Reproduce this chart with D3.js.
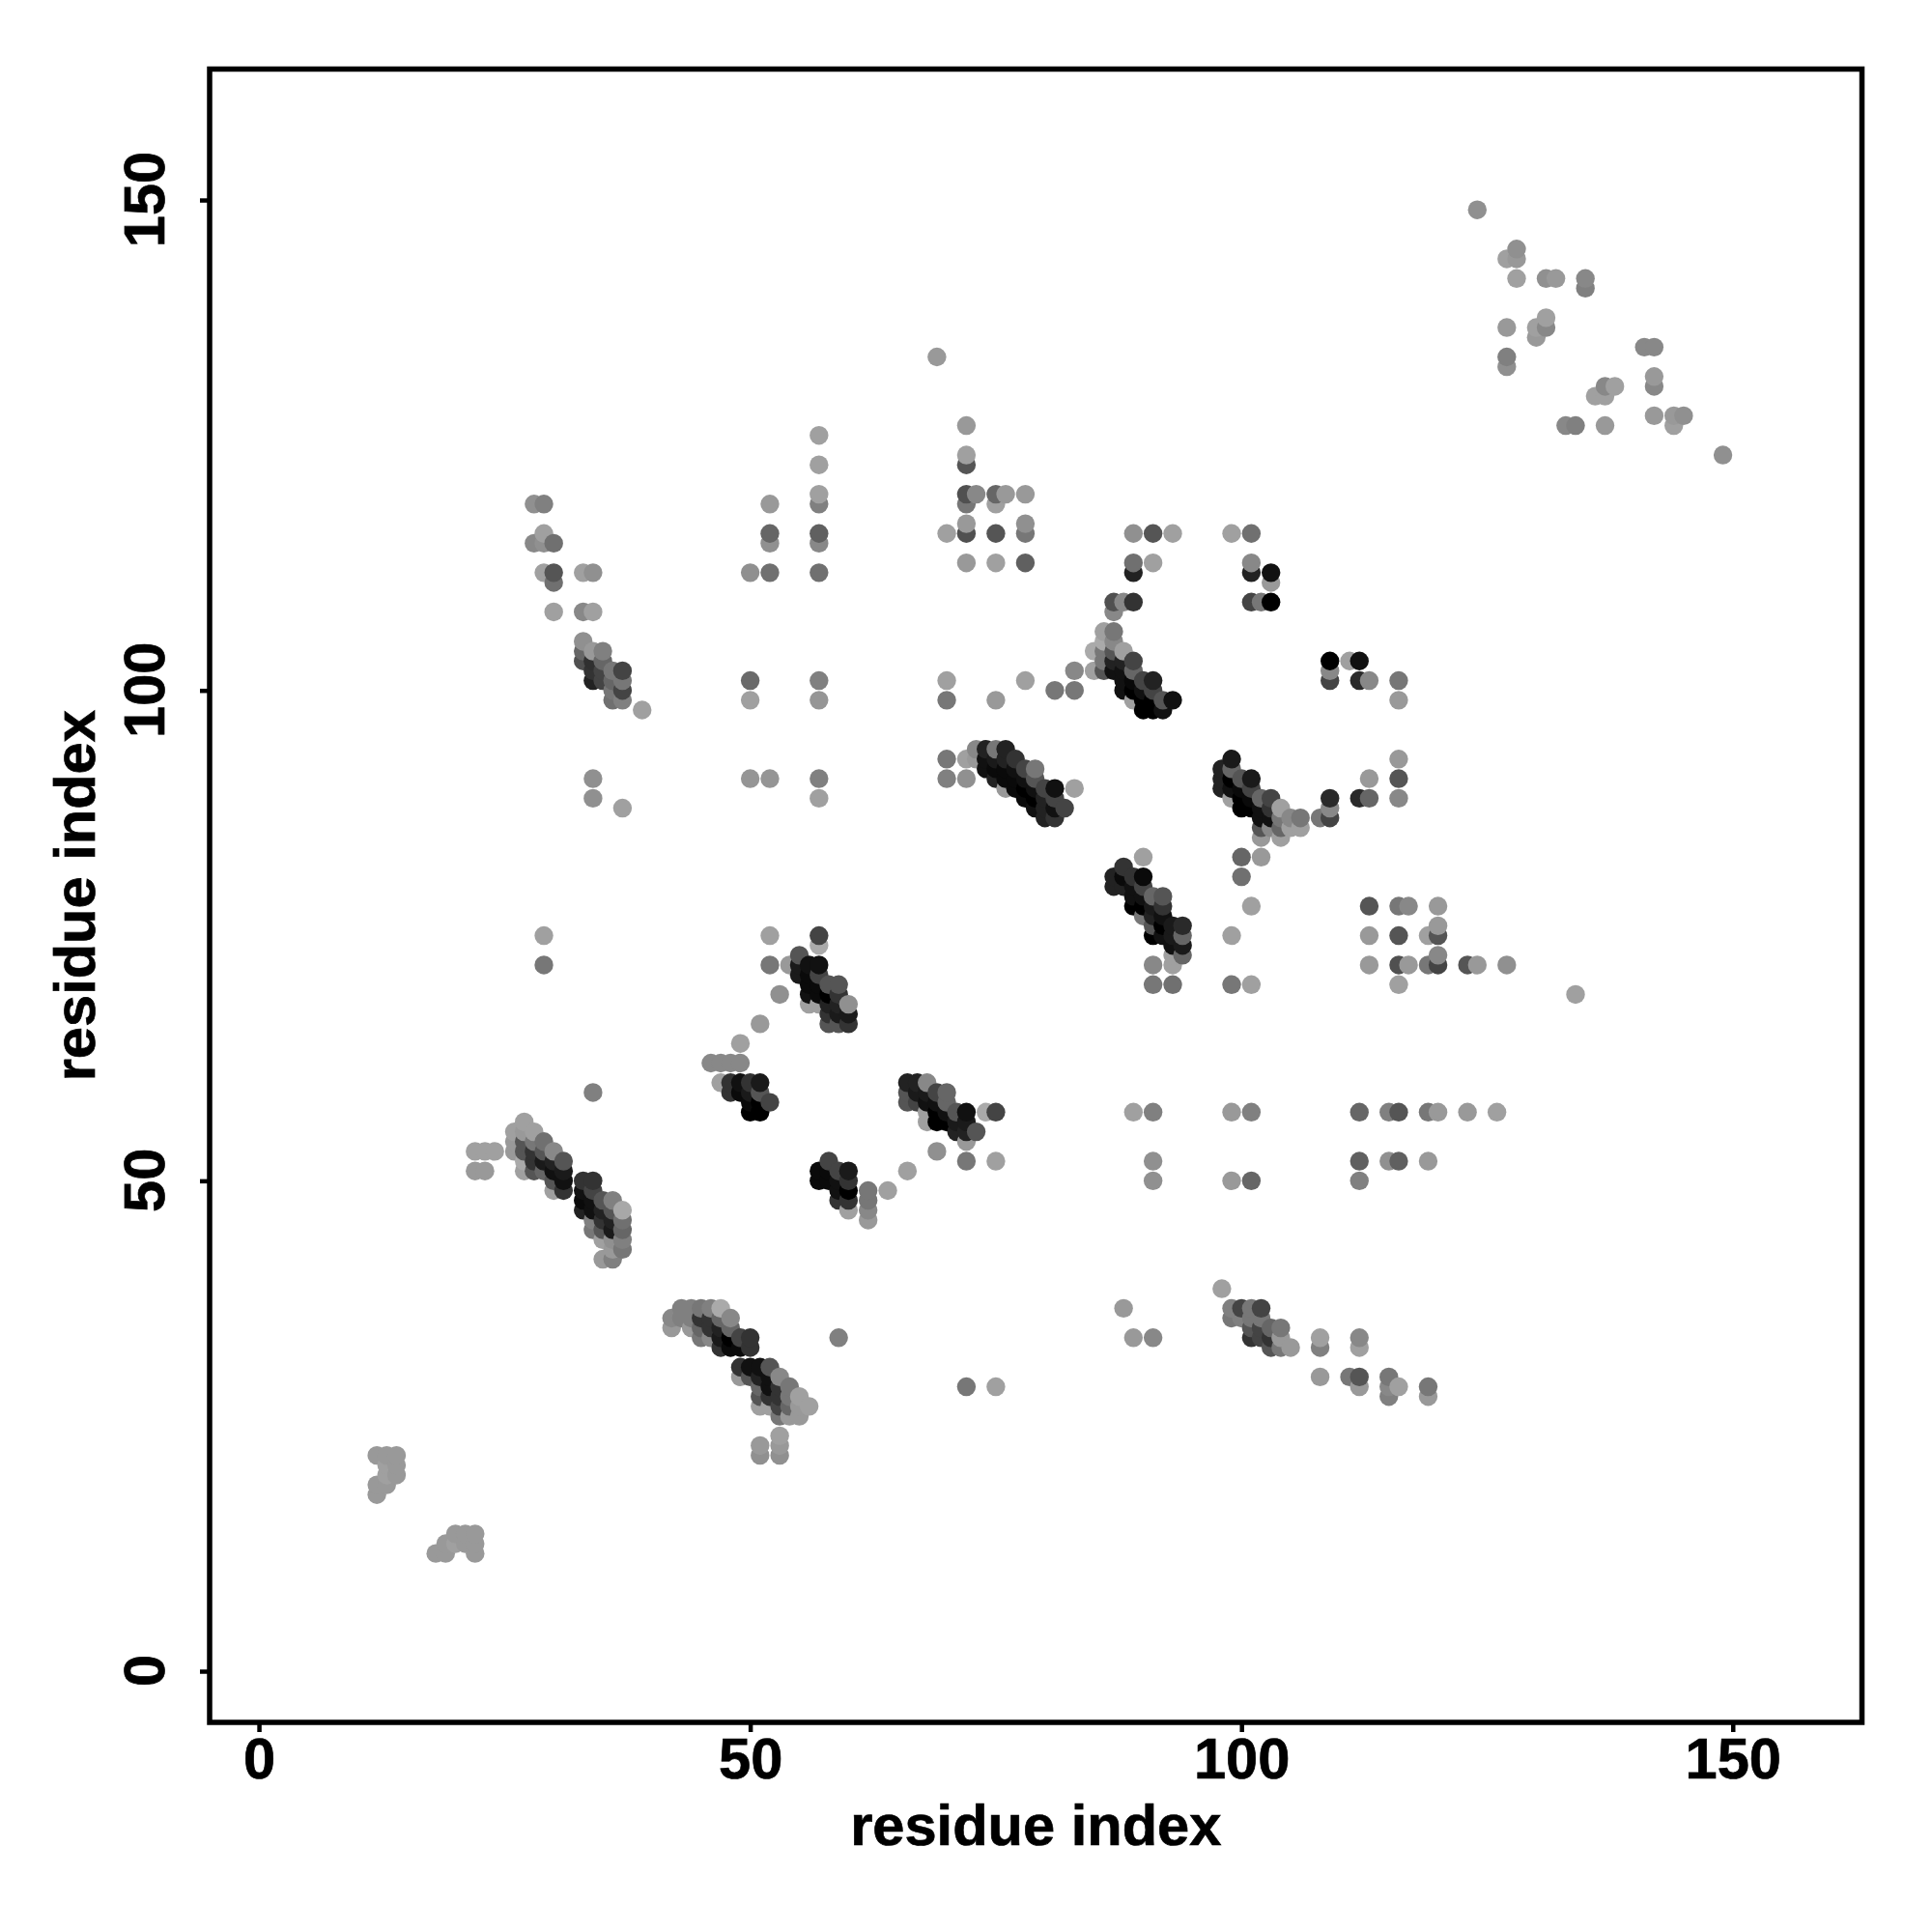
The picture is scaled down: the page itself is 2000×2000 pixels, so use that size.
<!DOCTYPE html>
<html><head><meta charset="utf-8">
<script src="https://cdn.jsdelivr.net/npm/d3@7"></script>
<style>html,body{margin:0;padding:0;background:#fff}svg{display:block}</style>
</head><body><svg id="chart" width="2000" height="2000"></svg>
<script>
// Each contact: [residue x, residue y, gray level]
const tickValues = [0, 50, 100, 150];
const xTitle = "residue index";
const yTitle = "residue index";
const clusterA = [[12,22,0x99],[13,22,0x99],[14,22,0x99],[13,21,0xa0],[14,21,0x99],[13,20,0xa0],[14,20,0x99],[12,19,0x99],[13,19,0x99],[12,18,0x99],
[18,12,0x99],[19,12,0x99],[19,13,0x99],[20,14,0x99],[21,14,0x99],[22,14,0x99],[20,13,0xa0],[21,13,0x99],[22,13,0x99],[22,12,0x99]];
const clusterB = [[22,53,0xa0],[23,53,0xa0],[24,53,0xa0],[22,51,0x99],[23,51,0x99],
[27,56,0xa0],[26,55,0xa0],[27,55,0x99],[28,55,0xa0],[26,54,0x99],[27,54,0x55],[28,54,0x77],[29,54,0x70],[26,53,0x99],[27,53,0x55],[28,53,0x33],[29,53,0x55],[30,53,0x88],[27,52,0xaa],[28,52,0x33],[29,52,0x1a],[30,52,0x22],[31,52,0x55],[27,51,0xa0],[28,51,0x55],[29,51,0x66],[30,51,0x11],[31,51,0x1a],[30,50,0x55],[31,50,0x11],[30,49,0xa0],[31,49,0x33],
[33,50,0x33],[34,50,0x33],[33,49,0x11],[34,49,0x44],[33,48,0x0a],[34,48,0x11],[35,48,0x55],[36,48,0x80],[33,47,0x22],[34,47,0x11],[35,47,0x22],[36,47,0x55],[37,47,0xa8],[34,46,0x80],[35,46,0x33],[36,46,0x22],[37,46,0x70],[34,45,0x77],[35,45,0x55],[36,45,0x1a],[37,45,0x66],[35,44,0xa0],[36,44,0x90],[37,44,0x80],[36,43,0x99],[37,43,0x77],[35,42,0x99],[36,42,0x80],[34,59,0x80]];
const clusterC = [[42,36,0x88],[42,35,0x99],[43,37,0x80],[44,37,0x80],[45,37,0x77],[46,37,0x80],[47,37,0xaa],[43,36,0x80],[44,36,0x80],[45,36,0x33],[46,36,0x33],[47,36,0x66],[48,36,0x88],[44,35,0x99],[45,35,0x66],[46,35,0x33],[47,35,0x22],[48,35,0x66],[45,34,0x77],[46,34,0x88],[47,34,0x1a],[48,34,0x00],[49,34,0x44],[50,34,0x33],[47,33,0x33],[48,33,0x0a],[49,33,0x0a],[50,33,0x33],
[49,31,0x33],[50,31,0x11],[51,31,0x11],[52,31,0x55],[49,30,0x99],[50,30,0x55],[51,30,0x22],[52,30,0x11],[53,30,0x88],[51,29,0x66],[52,29,0x11],[53,29,0x33],[54,29,0x77],[51,28,0x55],[52,28,0x33],[53,28,0x33],[54,28,0x77],[55,28,0xa0],[51,27,0xa0],[52,27,0xa0],[53,27,0x44],[54,27,0x66],[55,27,0x99],[56,27,0xa0],[53,26,0x77],[54,26,0x99],[55,26,0x99],
[53,24,0xa0],[53,23,0x99],[51,23,0x99],[51,22,0x90],[53,22,0x90],[59,34,0x80],[72,29,0x77],[75,29,0xa0],[88,37,0x99],[89,34,0x99],[91,34,0x88]];
const clusterD = [[46,62,0x88],[47,62,0x88],[48,62,0x88],[49,62,0x88],[47,60,0xa0],[49,64,0xa0],[51,66,0x99],[53,69,0x90],
[48,60,0x33],[49,60,0x11],[50,60,0x33],[51,60,0x1a],[48,59,0x33],[49,59,0x0a],[50,59,0x1a],[51,59,0x55],[52,58,0x44],[50,58,0x0a],[51,58,0x00],[50,57,0x00],[51,57,0x00],
[52,75,0xa0],[57,75,0x44],[57,74,0xaa],[52,72,0x77],[54,72,0x99],[55,73,0x55],[55,72,0x1a],[56,72,0x11],[57,72,0x11],[55,71,0x1a],[56,71,0x0a],[57,71,0x44],[56,70,0x0a],[57,70,0x0a],[58,70,0x55],[59,70,0x55],[56,69,0x11],[57,69,0x0a],[58,69,0x00],[59,69,0x33],[56,68,0xa0],[57,68,0xa0],[58,68,0x22],[59,68,0x22],[60,68,0x90],[58,67,0x33],[59,67,0x1a],[60,67,0x1a],[58,66,0x55],[59,66,0x55],[60,66,0x33],
[58,52,0x44],[57,51,0x0a],[57,50,0x0a],[58,51,0x0a],[58,50,0x0a],[59,51,0x44],[60,51,0x1a],[59,50,0x11],[60,50,0x33],[59,49,0x11],[60,49,0x00],[59,48,0x33],[60,48,0x33],[60,47,0xa0],[62,49,0x77],[62,48,0x77],[62,47,0x88],[62,46,0x99],[64,49,0xa0],[66,51,0xa0],
[66,60,0x22],[67,60,0x22],[68,60,0x88],[66,59,0x55],[67,59,0x1a],[66,58,0x55],[67,58,0x44],[68,59,0x1a],[68,58,0x11],[69,59,0x44],[70,59,0x66],[69,58,0x11],[70,58,0x66],[68,57,0xa0],[69,57,0x00],[70,57,0x11],[71,57,0x55],[72,57,0x11],[74,57,0xaa],[75,57,0x44],[68,56,0xa0],[69,56,0x00],[70,56,0x00],[71,56,0x1a],[72,56,0x1a],[71,55,0x22],[72,55,0x22],[73,55,0x55],[72,54,0x99],[69,53,0x90],[72,52,0x77],[75,52,0xa0],[29,75,0xa0],[29,72,0x77]];
const clusterE = [[28,119,0x90],[29,119,0x80],[29,116,0xa0],[28,115,0x88],[29,115,0x90],[30,115,0x70],[29,112,0xa0],[30,112,0x55],[30,111,0x70],[33,112,0xa0],[34,112,0x90],[30,108,0xa0],[33,108,0x88],[34,108,0xa0],
[33,105,0x90],[33,104,0x66],[33,103,0x50],[34,104,0x99],[34,103,0x30],[34,102,0x33],[34,101,0x22],[35,104,0x80],[35,103,0x66],[35,102,0x44],[35,101,0x44],[36,102,0x77],[36,101,0x66],[36,100,0x77],[36,99,0x70],[37,102,0x44],[37,101,0x77],[37,100,0x44],[37,99,0x80],[39,98,0xa0],[34,91,0x90],[34,89,0x90],[37,88,0xa0],
[57,126,0xa0],[57,123,0xa0],[57,120,0xa0],[57,119,0x80],[52,119,0x99],[52,116,0x66],[52,115,0x90],[57,116,0x60],[57,115,0x88],[50,112,0x90],[52,112,0x70],[57,112,0x70],[50,101,0x6a],[50,99,0xa0],[57,101,0x80],[57,99,0x95],[50,91,0x95],[52,91,0x95],[57,91,0x80],[57,89,0xa0]];
const clusterF = [[69,134,0x99],[72,127,0x99],[72,124,0xa0],[72,123,0x55],[72,120,0x50],[73,120,0x88],[72,119,0x77],[75,120,0x66],[76,120,0x99],[75,119,0xa0],[78,120,0x99],[70,116,0xa0],[72,117,0x99],[72,116,0x50],[75,116,0x55],[78,117,0x90],[78,116,0x77],[72,113,0x99],[75,113,0xa0],[78,113,0x60],
[70,101,0xa0],[70,99,0x77],[78,101,0xa0],[75,99,0x99],[83,102,0x88],[81,100,0x77],[83,100,0x77],
[70,93,0x77],[70,91,0x80],[72,93,0xa0],[72,91,0x90],[73,94,0x88],[74,94,0x22],[75,94,0x77],[76,94,0x22],[73,93,0x99],[74,93,0x11],[75,93,0x1a],[76,93,0x22],[77,93,0x33],[74,92,0x11],[75,92,0x0a],[76,92,0x0a],[77,92,0x11],[78,92,0x44],[79,92,0x77],[75,91,0x22],[76,91,0x0a],[77,91,0x0a],[78,91,0x11],[79,91,0x55],[76,90,0x99],[77,90,0x0a],[78,90,0x00],[79,90,0x11],[80,90,0x44],[81,90,0x11],[83,90,0xa0],[78,89,0x0a],[79,89,0x00],[80,89,0x22],[81,89,0x44],[79,88,0x11],[80,88,0x22],[81,88,0x11],[82,88,0x44],[80,87,0x22],[81,87,0x33]];
const clusterG = [[89,116,0x90],[91,116,0x55],[93,116,0xa0],[89,113,0x70],[89,112,0x22],[91,113,0xa0],[87,109,0x50],[88,109,0x88],[89,109,0x33],[87,108,0x88],
[86,106,0xa0],[87,106,0x77],[86,105,0xaa],[87,105,0x88],[85,104,0xaa],[86,104,0x77],[87,104,0x55],[88,104,0xa0],[89,103,0x44],[85,102,0xa0],[86,103,0x77],[86,102,0x55],[87,103,0x22],[87,102,0x11],[88,103,0x22],[88,102,0x11],[89,102,0x66],[88,101,0x11],[89,101,0x08],[90,101,0x44],[91,101,0x22],[88,100,0x11],[89,100,0x00],[90,100,0x11],[91,100,0x44],[89,99,0xa0],[90,99,0x00],[91,99,0x00],[92,99,0x55],[93,99,0x11],[90,98,0x00],[91,98,0x00],[92,98,0x11],
[90,83,0xa0],[88,82,0x33],[87,81,0x22],[87,80,0x22],[88,81,0x0a],[88,80,0x22],[89,81,0x33],[90,81,0x0a],[89,80,0x11],[90,80,0x44],[89,79,0x11],[89,78,0x00],[90,79,0x11],[90,78,0x00],[91,79,0x66],[92,79,0x55],[91,78,0x1a],[92,78,0x33],[90,77,0x77],[91,77,0x22],[92,77,0x11],[91,76,0x55],[92,76,0x00],[93,76,0x1a],[94,76,0x2a],[91,75,0x00],[92,75,0x11],[93,75,0x1a],[94,75,0x66],[93,74,0x11],[94,74,0x1a],[93,73,0xa0],[94,73,0x66],[93,72,0xa0],[91,72,0x88],[91,70,0x77],[93,70,0x70],
[89,57,0xa0],[91,57,0x80],[91,52,0x90],[91,50,0x90]];
const clusterH = [[99,116,0xa0],[101,116,0x70],[101,113,0x88],[101,112,0x22],[103,112,0x11],[103,111,0x99],[101,109,0x44],[102,109,0x77],[103,109,0x00],
[109,103,0x00],[109,102,0x88],[109,101,0x44],[111,103,0xa0],[112,103,0x11],[112,101,0x2a],[113,101,0x88],[116,101,0x77],[116,99,0x99],
[99,93,0x1a],[98,92,0x22],[98,91,0x22],[98,90,0x22],[99,92,0x66],[99,91,0x00],[99,90,0x11],[99,89,0xa0],[100,91,0x55],[101,91,0x1a],[100,90,0x0a],[101,90,0x44],[100,89,0x00],[101,89,0x0a],[100,88,0x00],[101,88,0x00],[102,89,0x66],[103,89,0x44],[102,88,0x11],[103,88,0x33],[102,87,0x11],[103,87,0x11],[104,88,0xa0],[102,86,0x55],[103,86,0x88],[104,87,0x77],[104,86,0x66],[105,87,0x88],[106,87,0x77],[105,86,0xa0],[106,86,0xa0],[102,85,0x99],[104,85,0xa0],
[108,87,0x77],[109,89,0x2a],[109,88,0x88],[109,87,0x44],[112,89,0x2a],[113,89,0x66],[113,91,0x99],[116,93,0x99],[116,91,0x55],[116,89,0x88],
[100,83,0x66],[102,83,0x99],[100,81,0x70],[101,78,0xa0],[99,75,0xa0],[99,70,0x77],[101,70,0xa0]];
const clusterI = [[113,78,0x55],[116,78,0x77],[117,78,0x88],[120,78,0x99],[113,75,0x99],[116,75,0x55],[119,75,0xa0],[120,76,0x99],[120,75,0x55],[113,72,0x99],[116,72,0x50],[117,72,0x99],[119,72,0x77],[120,73,0x88],[120,72,0x44],[116,70,0xa0],[123,72,0x55],[124,72,0x99],[127,72,0x90],[134,69,0xa0],
[99,57,0x99],[101,57,0x80],[112,57,0x66],[115,57,0x80],[116,57,0x55],[119,57,0x77],[120,57,0x99],[123,57,0x99],[126,57,0xa0],[99,50,0x99],[101,50,0x66],[112,52,0x60],[115,52,0x90],[116,52,0x60],[119,52,0x99],[112,50,0x80],
[98,39,0xa0],[99,37,0x80],[99,36,0x77],[100,37,0x44],[100,36,0x80],[101,37,0x77],[102,37,0x44],[101,36,0x77],[102,36,0x77],[101,35,0x55],[101,34,0x33],[102,35,0x44],[102,34,0x44],[103,35,0x66],[104,35,0x77],[103,34,0x33],[104,34,0x99],[103,33,0x55],[104,33,0x77],[105,33,0x99],
[108,34,0xa0],[108,33,0x80],[112,34,0x88],[112,33,0xa0],[108,30,0x99],[111,30,0x77],[112,30,0x55],[112,29,0x99],[115,30,0x77],[115,29,0x88],[116,29,0xa0],[115,28,0x80],[119,29,0x77],[119,28,0x99]];
const clusterJ = [[124,149,0x90],[127,144,0xa0],[128,145,0x90],[128,144,0x99],[128,142,0xa0],[131,142,0x90],[132,142,0x99],[135,142,0x88],[135,141,0x80],[127,137,0x99],[130,137,0xa0],[131,137,0x88],[131,138,0xa0],[130,136,0x99],[127,134,0x80],[127,133,0x90],[141,135,0x88],[142,135,0x88],[142,132,0x99],[142,131,0x88],[142,128,0x99],[144,128,0x99],[145,128,0x90],[144,127,0xa0],[137,131,0x88],[138,131,0xa0],[136,130,0xa0],[137,130,0xa0],[133,127,0x88],[134,127,0x80],[137,127,0x99],[149,124,0x90]];

const contacts = [clusterA,clusterB,clusterC,clusterD,clusterE,clusterF,clusterG,clusterH,clusterI,clusterJ].flat()
  .sort((a,b)=>d3.ascending(a[0],b[0])||d3.ascending(a[1],b[1]));

const frame = {left:217, right:1927.5, top:71.5, bottom:1783};
const x = d3.scaleLinear().domain([-5.02,163.15]).range([frame.left,frame.right]);
const y = d3.scaleLinear().domain([-5.22,163.35]).range([frame.bottom,frame.top]);
const font = '"Liberation Sans", Arial, sans-serif';
const svg = d3.select("#chart");

svg.append("g").selectAll("circle").data(contacts).join("circle")
  .attr("cx",d=>x(d[0])).attr("cy",d=>y(d[1])).attr("r",9.7)
  .attr("fill",d=>d3.rgb(d[2],d[2],d[2]).formatHex());

svg.append("rect").attr("x",frame.left).attr("y",frame.top)
  .attr("width",frame.right-frame.left).attr("height",frame.bottom-frame.top)
  .attr("fill","none").attr("stroke","#000").attr("stroke-width",5.5);

const fontSize = 59.6;
const heavy = g=>g.attr("stroke","#000").attr("stroke-width",0.7);
const styleAxis = g=>{
  g.select(".domain").remove();
  g.selectAll(".tick line").attr("stroke","#000").attr("stroke-width",4.5);
  g.selectAll("text").attr("font-family",font).attr("font-weight",700).attr("font-size",fontSize).attr("fill","#000").call(heavy);
};
svg.append("g").attr("transform",`translate(0,${frame.bottom})`)
  .call(d3.axisBottom(x).tickValues(tickValues).tickSize(10).tickPadding(0).tickFormat(d3.format("d")))
  .call(styleAxis)
  .call(g=>g.selectAll("text").attr("dy",null).attr("y",58).attr("dominant-baseline","alphabetic"));
svg.append("g").attr("transform",`translate(${frame.left},0)`)
  .call(d3.axisLeft(y).tickValues(tickValues).tickSize(10).tickFormat(d3.format("d")))
  .call(styleAxis)
  .call(g=>g.selectAll("text").attr("x",null).attr("dy",null).attr("text-anchor","middle")
     .attr("transform","translate(-47,-1) rotate(-90)"));

svg.append("text").attr("x",(frame.left+frame.right)/2).attr("y",1910).attr("text-anchor","middle")
  .attr("font-family",font).attr("font-weight",700).attr("font-size",fontSize).call(heavy).text(xTitle);
svg.append("text").attr("transform",`translate(98,${(frame.top+frame.bottom)/2}) rotate(-90)`).attr("text-anchor","middle")
  .attr("font-family",font).attr("font-weight",700).attr("font-size",fontSize).call(heavy).text(yTitle);
</script></body></html>
